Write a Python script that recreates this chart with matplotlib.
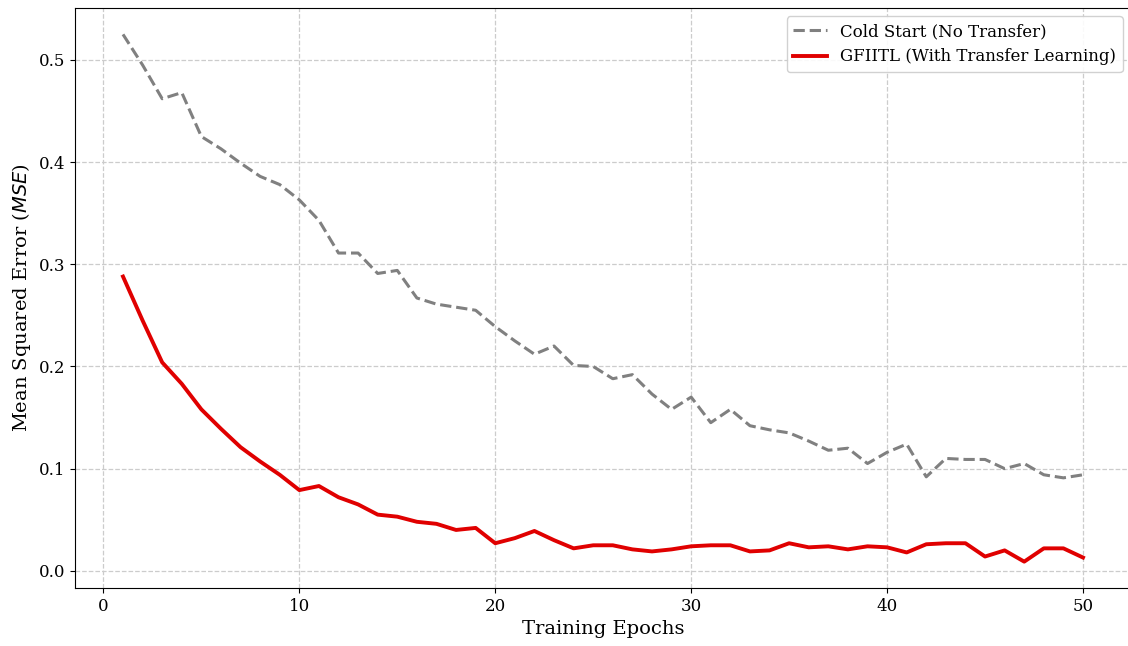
import numpy as np
import matplotlib
matplotlib.use("Agg")
import matplotlib.pyplot as plt

plt.rcParams['font.family'] = ['DejaVu Serif']

# epochs 1..50
epochs = list(range(1, 51))

cold_start = [0.525, 0.495, 0.462, 0.468, 0.425, 0.413, 0.399, 0.386, 0.378, 0.363,
              0.343, 0.311, 0.311, 0.291, 0.294, 0.267, 0.261, 0.258, 0.255, 0.239,
              0.225, 0.212, 0.220, 0.201, 0.200, 0.188, 0.192, 0.173, 0.158, 0.170,
              0.145, 0.158, 0.142, 0.138, 0.135, 0.127, 0.118, 0.120, 0.105, 0.116,
              0.124, 0.092, 0.110, 0.109, 0.109, 0.100, 0.105, 0.094, 0.091, 0.094]

gfiitl = [0.288, 0.245, 0.204, 0.183, 0.158, 0.139, 0.121, 0.107, 0.094, 0.079,
          0.083, 0.072, 0.065, 0.055, 0.053, 0.048, 0.046, 0.040, 0.042, 0.027,
          0.032, 0.039, 0.030, 0.022, 0.025, 0.025, 0.021, 0.019, 0.021, 0.024,
          0.025, 0.025, 0.019, 0.020, 0.027, 0.023, 0.024, 0.021, 0.024, 0.023,
          0.018, 0.026, 0.027, 0.027, 0.014, 0.020, 0.009, 0.022, 0.022, 0.013]

fig = plt.figure(figsize=(11.28, 6.46), dpi=100)
# the original was cropped at the top and right, so the axes run slightly off the canvas
ax = fig.add_axes([75/1128, 58/646, 1056/1128, 580/646])

ax.plot(epochs, cold_start, color='gray', linestyle='--', linewidth=2.2,
        label='Cold Start (No Transfer)')
ax.plot(epochs, gfiitl, color='#e00000', linestyle='-', linewidth=2.8,
        label='GFIITL (With Transfer Learning)')

ax.set_xlabel('Training Epochs', fontsize=14)
ax.set_ylabel('Mean Squared Error ($MSE$)', fontsize=14)
ax.tick_params(labelsize=12)
ax.set_yticks([0.0, 0.1, 0.2, 0.3, 0.4, 0.5])
ax.spines['right'].set_visible(False)
ax.grid(True, linestyle='--', color='#cccccc', linewidth=0.9)
ax.legend(loc='upper right', fontsize=12, framealpha=0.9)

fig.savefig('out.png', dpi=100)
